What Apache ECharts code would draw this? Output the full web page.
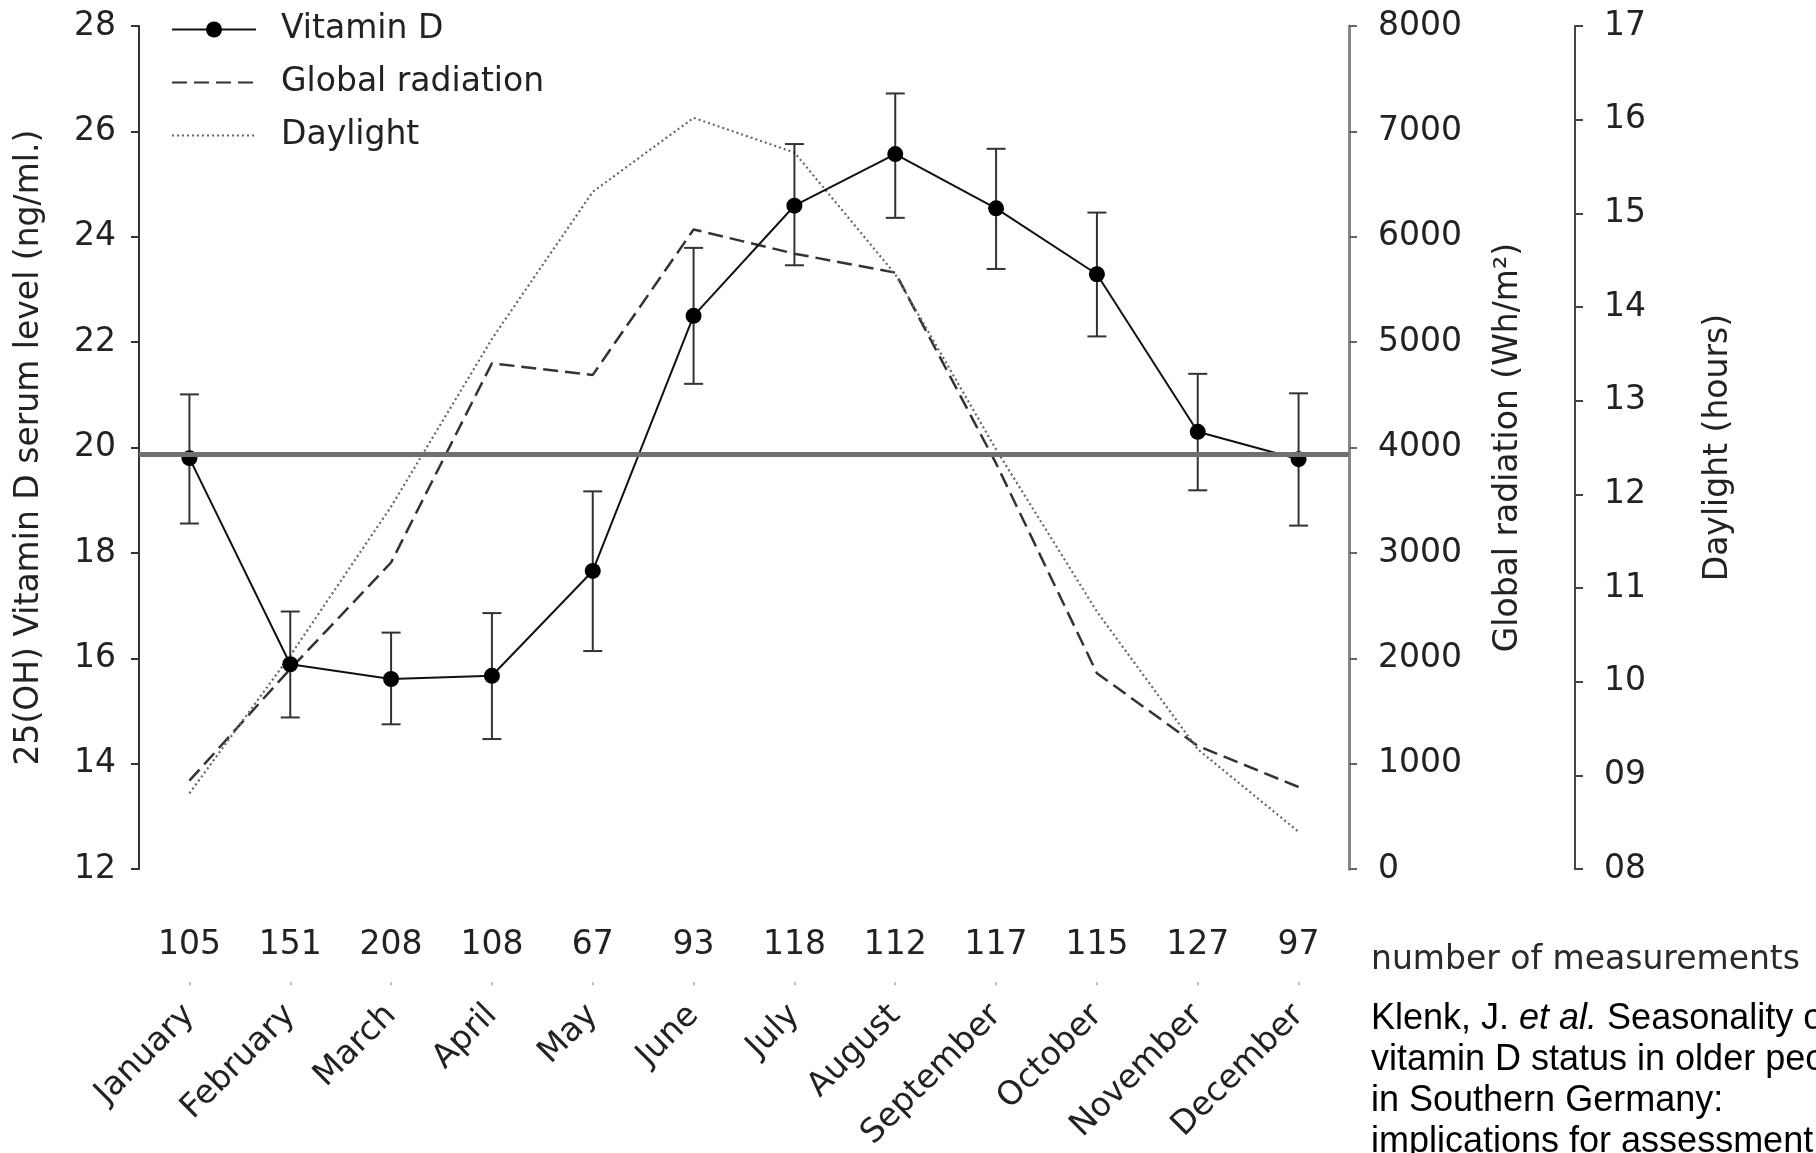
<!DOCTYPE html>
<html><head><meta charset="utf-8">
<script src="https://cdn.jsdelivr.net/npm/echarts@6/dist/echarts.min.js"></script>
<style>html,body{margin:0;padding:0;background:#fff}#c{width:1816px;height:1153px}</style>
</head><body><div id="c"></div>
<script>
const months = ['January','February','March','April','May','June','July','August','September','October','November','December'];
const counts = ['105','151','208','108','67','93','118','112','117','115','127','97'];
const vitD     = [19.80, 15.89, 15.61, 15.67, 17.66, 22.50, 24.59, 25.57, 24.54, 23.29, 20.30, 19.78];
const vitDLow  = [18.56, 14.88, 14.75, 14.47, 16.14, 21.21, 23.46, 24.36, 23.39, 22.11, 19.19, 18.52];
const vitDHigh = [21.01, 16.89, 16.49, 16.86, 19.17, 23.79, 25.76, 26.72, 25.67, 24.46, 21.40, 21.03];
const radiation = [840, 1900, 2910, 4800, 4690, 6070, 5840, 5660, 3850, 1860, 1170, 780];
const daylight  = [8.81, 10.28, 11.87, 13.66, 15.23, 16.02, 15.65, 14.35, 12.48, 10.75, 9.28, 8.40];
const threshold = 19.88;
const leftAxis = {min: 12, max: 28, interval: 2};
const radAxis = {min: 0, max: 8000, interval: 1000};
const dayAxis = {min: 8, max: 17, interval: 1};

const F = 'DejaVu Sans';
const TXT = '#222';
const chart = echarts.init(document.getElementById('c'), null, {renderer: 'canvas'});

const errData = vitD.map((v, i) => [i, vitDLow[i], vitDHigh[i]]);
const hideSym = {color: 'rgba(0,0,0,0)', borderWidth: 0, opacity: 0};

chart.setOption({
  animation: false,
  backgroundColor: '#fff',
  grid: {left: 139, right: 467, top: 26, bottom: 271, containLabel: false},
  legend: {
    orient: 'vertical', left: 166, top: 8, itemWidth: 84, itemHeight: 20, itemGap: 20,
    data: [
      {name: 'Vitamin D'},
      {name: 'Global radiation', itemStyle: hideSym},
      {name: 'Daylight', itemStyle: hideSym}
    ],
    textStyle: {fontFamily: F, fontSize: 33, color: TXT, lineHeight: 33, padding: [0, 0, 0, 20]}
  },
  xAxis: [
    {type: 'category', data: months, boundaryGap: true,
     axisLine: {show: false}, axisTick: {show: false}, axisLabel: {show: false}, splitLine: {show: false}},
    {type: 'category', data: counts, position: 'bottom', boundaryGap: true,
     axisLine: {show: false}, axisTick: {show: false}, splitLine: {show: false},
     axisLabel: {margin: 60, fontFamily: F, fontSize: 33, color: TXT}},
    {type: 'category', data: months, position: 'bottom', offset: 113, boundaryGap: true,
     axisLine: {show: false}, splitLine: {show: false},
     axisTick: {show: true, alignWithLabel: true, length: 3, lineStyle: {color: '#bbb', width: 2}},
     axisLabel: {rotate: 45, margin: 28, fontFamily: F, fontSize: 33, color: TXT}}
  ],
  yAxis: [
    {type: 'value', position: 'left', min: leftAxis.min, max: leftAxis.max, interval: leftAxis.interval,
     name: '25(OH) Vitamin D serum level (ng/ml.)', nameLocation: 'middle', nameGap: 93,
     nameTextStyle: {fontFamily: F, fontSize: 33, color: TXT},
     axisLine: {show: true, lineStyle: {color: '#333', width: 2}},
     axisTick: {show: true, length: 8, lineStyle: {color: '#333', width: 2}},
     axisLabel: {margin: 23, fontFamily: F, fontSize: 33, color: TXT},
     splitLine: {show: false}},
    {type: 'value', position: 'right', offset: 0, min: radAxis.min, max: radAxis.max, interval: radAxis.interval,
     name: 'Global radiation (Wh/m²)', nameLocation: 'middle', nameGap: 143,
     nameTextStyle: {fontFamily: F, fontSize: 33, color: TXT},
     axisLine: {show: true, lineStyle: {color: '#888', width: 3}},
     axisTick: {show: true, length: 8, lineStyle: {color: '#666', width: 2}},
     axisLabel: {margin: 29, fontFamily: F, fontSize: 33, color: TXT, formatter: v => '' + v},
     splitLine: {show: false}},
    {type: 'value', position: 'right', offset: 226, min: dayAxis.min, max: dayAxis.max, interval: dayAxis.interval,
     name: 'Daylight (hours)', nameLocation: 'middle', nameGap: 127,
     nameTextStyle: {fontFamily: F, fontSize: 33, color: TXT},
     axisLine: {show: true, lineStyle: {color: '#444', width: 2}},
     axisTick: {show: true, length: 8, lineStyle: {color: '#444', width: 2}},
     axisLabel: {margin: 29, fontFamily: F, fontSize: 33, color: TXT,
                 formatter: v => (v < 10 ? '0' + v : '' + v)},
     splitLine: {show: false}}
  ],
  series: [
    {name: 'Global radiation', type: 'line', yAxisIndex: 1, data: radiation, symbol: 'none',
     lineStyle: {color: '#333', width: 2.5, type: [15, 7]}, itemStyle: {color: '#333'}, z: 2},
    {name: 'Daylight', type: 'line', yAxisIndex: 2, data: daylight, symbol: 'none',
     lineStyle: {color: '#666', width: 2.2, type: [2, 3]}, itemStyle: {color: '#666'}, z: 2},
    {name: 'err', type: 'custom', yAxisIndex: 0, data: errData, z: 3,
     encode: {x: 0, y: [1, 2]},
     renderItem: (params, api) => {
       const x = api.value(0);
       const lo = api.coord([x, api.value(1)]);
       const hi = api.coord([x, api.value(2)]);
       const hw = 9.5;
       const st = {stroke: '#333', lineWidth: 2};
       return {type: 'group', children: [
         {type: 'line', shape: {x1: lo[0], y1: lo[1], x2: hi[0], y2: hi[1]}, style: st},
         {type: 'line', shape: {x1: lo[0] - hw, y1: lo[1], x2: lo[0] + hw, y2: lo[1]}, style: st},
         {type: 'line', shape: {x1: hi[0] - hw, y1: hi[1], x2: hi[0] + hw, y2: hi[1]}, style: st}
       ]};
     }},
    {name: 'Vitamin D', type: 'line', yAxisIndex: 0, data: vitD, symbol: 'circle', symbolSize: 16,
     itemStyle: {color: '#000'}, lineStyle: {color: '#111', width: 2}, z: 4,
     markLine: {silent: true, symbol: ['none', 'none'], label: {show: false},
                lineStyle: {color: '#707070', width: 5, type: 'solid'},
                data: [{yAxis: threshold}]}}
  ],
  graphic: [
    {type: 'text', left: 1371, top: 944,
     style: {text: 'number of measurements', fontFamily: F, fontSize: 33, fill: '#2a2a2a'}},
    {type: 'text', left: 1371, top: 1001,
     style: {
       text: '{n|Klenk, J. }{i|et al.}{n| Seasonality of}\n{n|vitamin D status in older people}\n{n|in Southern Germany:}\n{n|implications for assessment}',
       rich: {
         n: {fontFamily: 'Liberation Sans', fontSize: 36, lineHeight: 41, fill: '#000'},
         i: {fontFamily: 'Liberation Sans', fontSize: 36, lineHeight: 41, fontStyle: 'italic', fill: '#000'}
       }
     }}
  ]
});
</script>
</body></html>
